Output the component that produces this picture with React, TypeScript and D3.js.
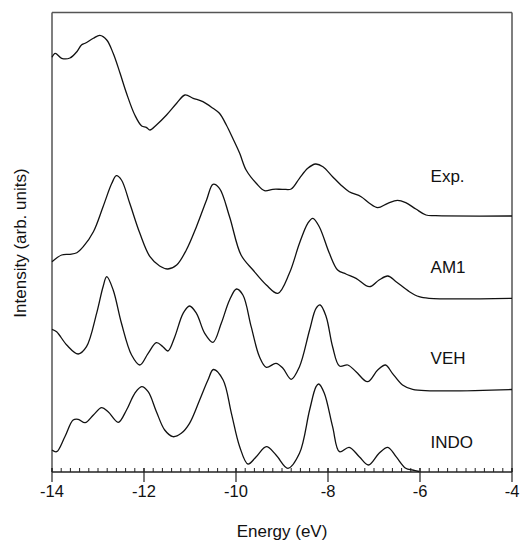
import React from "react";
import * as d3 from "d3";

// ---- Data (energy in eV, intensity in arb. units above each trace's baseline) ----
const seriesNames = ["Exp.", "AM1", "VEH", "INDO"];
const seriesOffsets = [256, 173.7, 82.5, 0.5];
const labelLift = [34.3, 25, 25.5, 23.2];

const expE = [-14, -13.93, -13.79, -13.61, -13.46, -13.36, -13.28, -13.1, -12.96, -12.81, -12.67, -12.52, -12.38, -12.2, -12.05, -11.95, -11.87, -11.73, -11.51, -11.29, -11.11, -10.93, -10.72, -10.5, -10.36, -10.21, -10.07, -9.92, -9.78, -9.56, -9.38, -9.2, -8.98, -8.8, -8.62, -8.44, -8.27, -8.11, -7.9, -7.72, -7.54, -7.28, -7.1, -6.92, -6.7, -6.49, -6.31, -6.09, -5.87, -5.66, -4];
const expI = [158.7, 162.7, 157.7, 158, 164.3, 171, 172.7, 177.7, 180.7, 176, 162.7, 142.7, 122.7, 101, 90, 88.7, 86, 91, 101, 112.7, 121, 117.7, 114.3, 107.7, 102.7, 91, 77.7, 62.7, 46, 32.7, 25.3, 26.7, 26.7, 27, 37.7, 47.7, 52, 49.3, 39.3, 31, 24.3, 19.3, 12.7, 8.3, 12.7, 15.7, 13.3, 7, 1, 0.3, 0];

const am1E = [-14, -13.79, -13.61, -13.46, -13.32, -13.1, -12.89, -12.7, -12.6, -12.49, -12.31, -12.09, -11.87, -11.66, -11.48, -11.29, -11.08, -10.86, -10.64, -10.5, -10.36, -10.14, -9.89, -9.63, -9.34, -9.09, -8.84, -8.62, -8.44, -8.33, -8.19, -7.97, -7.79, -7.61, -7.39, -7.1, -6.89, -6.7, -6.52, -6.23, -6.02, -5.8, -4];
const am1I = [36.6, 43.3, 44, 45.6, 51.6, 66.6, 91.6, 115, 122.6, 118.3, 95, 65, 41.6, 32.3, 29.3, 33.3, 48.3, 71.6, 98.3, 114, 110, 81.6, 43.3, 28.3, 13.3, 5, 25, 55, 75, 80, 71.6, 45, 28.3, 24.3, 20, 11.6, 18.3, 22.3, 16.6, 6.6, 1.6, 0, 0];

const vehE = [-14, -13.9, -13.68, -13.43, -13.25, -13.03, -12.89, -12.81, -12.67, -12.49, -12.27, -12.09, -11.91, -11.73, -11.59, -11.48, -11.33, -11.15, -11.01, -10.86, -10.68, -10.5, -10.32, -10.14, -9.99, -9.85, -9.67, -9.49, -9.34, -9.13, -8.98, -8.8, -8.62, -8.4, -8.26, -8.17, -8.04, -7.9, -7.75, -7.57, -7.39, -7.14, -6.92, -6.75, -6.6, -6.38, -6.16, -4];
const vehI = [60.2, 57.8, 44.5, 35.5, 42.8, 76.2, 102.8, 112.8, 99.5, 66.2, 34.5, 24.5, 36.2, 46.8, 42.8, 38.5, 52.8, 76.2, 83.5, 76.2, 56.2, 47.2, 66.2, 89.5, 100.5, 94.5, 62.8, 32.8, 22.2, 26.2, 21.2, 10.2, 22.8, 59.5, 81.2, 84.5, 72.8, 42.8, 23.5, 24.5, 17.8, 7.8, 19.5, 24.5, 16.2, 4.5, 0.2, 0];

const indoE = [-14, -13.9, -13.72, -13.54, -13.43, -13.28, -13.1, -12.92, -12.78, -12.56, -12.38, -12.2, -12.05, -11.91, -11.73, -11.55, -11.37, -11.19, -11.01, -10.79, -10.61, -10.49, -10.28, -10.1, -9.92, -9.74, -9.56, -9.34, -9.13, -8.87, -8.62, -8.4, -8.26, -8.2, -8.08, -7.9, -7.75, -7.54, -7.32, -7.12, -6.89, -6.7, -6.52, -6.31, -6.16, -6.02];
const indoI = [21.5, 19.8, 34.8, 51.5, 52.2, 48.8, 56.5, 63.8, 59.8, 49.2, 61.5, 78.2, 84.8, 79.8, 59.8, 41.5, 34.8, 38.2, 48.2, 71.5, 91.5, 102, 91.5, 58.2, 24.8, 7.5, 14.8, 24.8, 16.5, 3.2, 18.2, 61.5, 84.8, 87.5, 78.2, 44.8, 19.8, 24.2, 14.8, 6.5, 18.2, 24.2, 14.8, 3.2, 1.5, 0];

const xTickValues = [-14, -12, -10, -8, -6, -4];

const seriesE = [expE, am1E, vehE, indoE];
const seriesI = [expI, am1I, vehI, indoI];

export default function App() {
  const W = 520;
  const H = 540;
  const left = 52;
  const right = 512;
  const top = 12.5;
  const bottom = 472;

  const x = d3.scaleLinear().domain([-14, -4]).range([left, right]);
  const y = d3.scaleLinear().domain([0, bottom - top]).range([bottom, top]);

  const minorTicks = d3.range(0, 51).map((i) => -14 + i * 0.2);

  const paths = seriesE.map((E, si) => {
    const pts: [number, number][] = E.map((e, i) => [e, seriesI[si][i] + seriesOffsets[si]]);
    const gen = d3
      .line<[number, number]>()
      .x((d) => x(d[0]))
      .y((d) => y(d[1]))
      .curve(si === 0 ? d3.curveCatmullRom.alpha(0.5) : d3.curveCatmullRom.alpha(0.5));
    return gen(pts) || "";
  });

  const font = "'Liberation Sans', Arial, sans-serif";
  const frame = "#555";

  return (
    <svg
      width={W}
      height={H}
      style={{ position: "absolute", left: 0, top: 0, background: "#fff" }}
    >
      {/* frame */}
      <line x1={left} y1={top} x2={right} y2={top} stroke={frame} strokeWidth={1.5} />
      <line x1={right} y1={top} x2={right} y2={bottom} stroke={frame} strokeWidth={1.5} />
      <line x1={left} y1={top} x2={left} y2={bottom} stroke={frame} strokeWidth={1.5} />
      <line x1={left} y1={bottom} x2={right} y2={bottom} stroke="#222" strokeWidth={1.3} />

      {/* minor ticks */}
      {minorTicks.map((t, i) => (
        <line key={"m" + i} x1={x(t)} x2={x(t)} y1={bottom - 4} y2={bottom} stroke="#222" strokeWidth={1} />
      ))}
      {/* major ticks + labels */}
      {xTickValues.map((t) => (
        <g key={"M" + t}>
          <line x1={x(t)} x2={x(t)} y1={bottom - 4} y2={bottom + 10} stroke="#222" strokeWidth={1.2} />
          <text
            x={x(t)}
            y={496.7}
            textAnchor="middle"
            fontFamily={font}
            fontSize={16.5}
            fill="#111"
          >
            {t < 0 ? "-" + Math.abs(t) : String(t)}
          </text>
        </g>
      ))}

      {/* curves */}
      {paths.map((p, i) => (
        <path key={"p" + i} d={p} fill="none" stroke="#111" strokeWidth={1.3} strokeLinejoin="round" />
      ))}

      {/* series labels */}
      {seriesNames.map((n, i) => (
        <text
          key={"l" + i}
          x={x(-5.77)}
          y={y(seriesOffsets[i] + labelLift[i])}
          fontFamily={font}
          fontSize={17}
          fill="#111"
        >
          {n}
        </text>
      ))}

      {/* axis titles */}
      <text x={282} y={537} textAnchor="middle" fontFamily={font} fontSize={17} fill="#111">
        Energy (eV)
      </text>
      <text
        transform={`translate(25.7, ${243}) rotate(-90)`}
        textAnchor="middle"
        fontFamily={font}
        fontSize={17}
        fill="#111"
      >
        Intensity (arb. units)
      </text>
    </svg>
  );
}
